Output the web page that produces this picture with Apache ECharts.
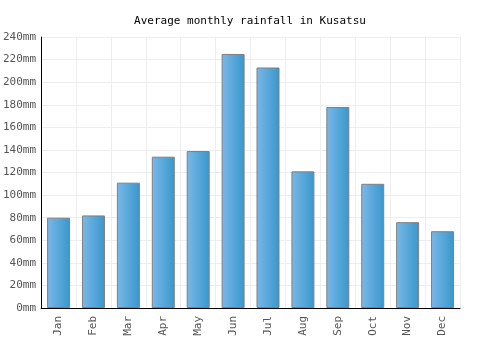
<!DOCTYPE html>
<html>
<head>
<meta charset="utf-8">
<script src="https://cdn.jsdelivr.net/npm/echarts@6/dist/echarts.min.js"></script>
<style>
html, body { margin: 0; padding: 0; background: #fff; }
#chartmain { width: 500px; height: 350px; }
</style>
</head>
<body>
<div id="chartmain"></div>
<script>
var months = ['Jan', 'Feb', 'Mar', 'Apr', 'May', 'Jun', 'Jul', 'Aug', 'Sep', 'Oct', 'Nov', 'Dec'];
var rainfall = [80, 82, 111, 134, 139, 225, 213, 121, 178, 110, 76, 68];

var monoFont = '"DejaVu Sans Mono", "Liberation Mono", monospace';

var option = {
	animation : false,
	title : {
		text : 'Average monthly rainfall in Kusatsu',
		left : 'center',
		top : 11,
		textStyle : {
			fontFamily : monoFont,
			fontSize : 11,
			fontWeight : 'normal',
			color : '#000'
		}
	},
	grid : {
		left : 40,
		right : 40,
		top : 37,
		bottom : 42
	},
	xAxis : {
		type : 'category',
		data : months,
		axisLine : { lineStyle : { color : '#000', width : 1 } },
		axisTick : { show : false },
		splitLine : { show : true, lineStyle : { color : '#eeeeee' } },
		axisLabel : {
			rotate : 90,
			fontFamily : monoFont,
			fontSize : 11,
			color : '#555',
			margin : 8
		}
	},
	yAxis : {
		type : 'value',
		min : 0,
		max : 240,
		interval : 20,
		axisLine : { show : true, lineStyle : { color : '#000', width : 1 } },
		axisTick : { show : false },
		splitLine : { lineStyle : { color : '#eeeeee' } },
		axisLabel : {
			formatter : '{value}mm',
			fontFamily : monoFont,
			fontSize : 11,
			color : '#555',
			margin : 5
		}
	},
	series : [ {
		type : 'bar',
		data : rainfall,
		barWidth : 23,
		itemStyle : {
			borderColor : '#808080',
			borderWidth : 1,
			color : new echarts.graphic.LinearGradient(0, 0, 1, 0, [
				{ offset : 0, color : '#7ab8e8' },
				{ offset : 1, color : '#3897cc' }
			])
		}
	} ]
};
// init chart
var myChart = echarts.init(document.getElementById('chartmain'));
myChart.setOption(option);
</script>
</body>
</html>
